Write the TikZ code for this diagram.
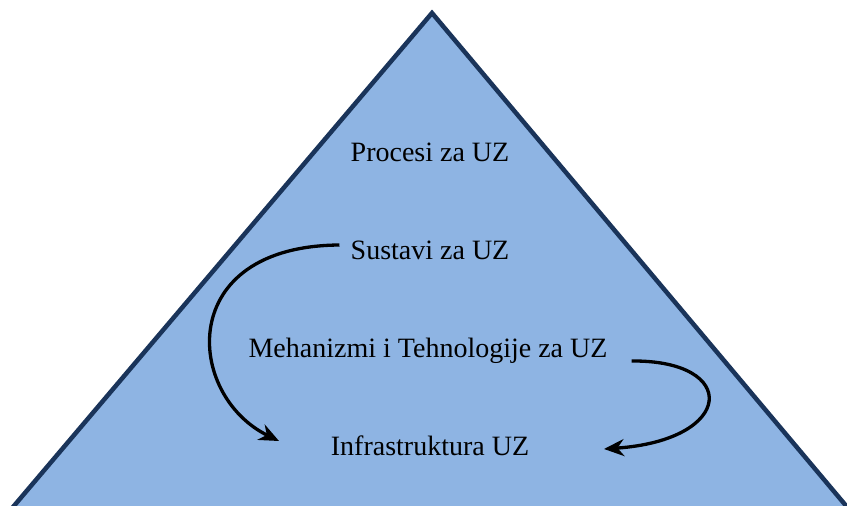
\documentclass[tikz,border=0pt]{standalone}
\usepackage{fontspec}
\setmainfont{Liberation Serif}
\usetikzlibrary{arrows.meta}
\definecolor{pyrfill}{RGB}{142,180,227}
\definecolor{pyrline}{RGB}{26,52,90}
\begin{document}
\begin{tikzpicture}[x=1pt,y=-1pt,
    lvl/.style={inner sep=6pt,font=\fontsize{28}{32}\selectfont},
    flow/.style={-{Stealth[length=20pt,width=17pt]},line width=3.3pt}]
        \useasboundingbox (0,0) rectangle (847,506);
        % Triangle
        \begin{scope}
          \clip (0,0) rectangle (847,506);
          \draw[pyrline,fill=pyrfill,line width=4.5pt,line join=miter]
            (432,13) -- (858,520) -- (2,520) -- cycle;
        \end{scope}
        % Levels
        \node[lvl] (procesi) at (430,152) {Procesi za UZ};
        \node[lvl] (sustavi) at (430,250) {Sustavi za UZ};
        \node[lvl] (mehanizmi) at (428,351) {Mehanizmi i Tehnologije za UZ};
        \node[lvl] (infra) at (430,446) {Infrastruktura UZ};
        % Arrows
        \coordinate (tipA) at (279,441);
        \coordinate (tipB) at (604,449);
        \draw[flow] (sustavi.west) ++(-5,-5) .. controls (175,246) and (185,395) .. (tipA);
        \draw[flow] (mehanizmi.east) ++(18,10) .. controls (740,360) and (735,440) .. (tipB);
    \end{tikzpicture}
\end{document}
